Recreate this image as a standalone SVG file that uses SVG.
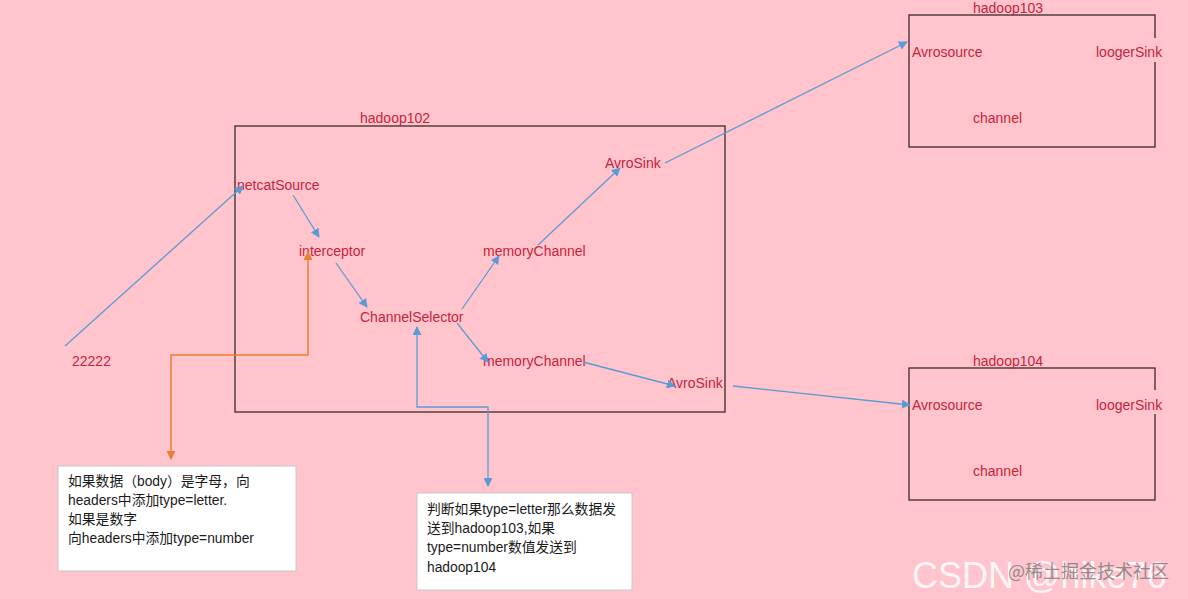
<svg xmlns="http://www.w3.org/2000/svg" width="1188" height="599" viewBox="0 0 1188 599">
<defs>
<marker id="ab" viewBox="0 0 10 10" refX="9" refY="5" markerWidth="9" markerHeight="9" markerUnits="userSpaceOnUse" orient="auto-start-reverse"><path d="M0,0 L10,5 L0,10 z" fill="#5B9BD5"/></marker>
<marker id="ao" viewBox="0 0 10 10" refX="9" refY="5" markerWidth="9" markerHeight="9" markerUnits="userSpaceOnUse" orient="auto-start-reverse"><path d="M0,0 L10,5 L0,10 z" fill="#ED7D31"/></marker>
</defs>
<style>
.lbl{font-family:"Liberation Sans","Noto Sans",sans-serif;font-size:14px;fill:#C4243E}
.box{fill:none;stroke:#3a2a2a;stroke-width:1.3}
.note{fill:#fff;stroke:#c8c8c8;stroke-width:1}
.nt{font-family:"Liberation Sans","Noto Sans CJK SC",sans-serif;font-size:13.8px;fill:#1a1a1a}
.cb{fill:none;stroke:#5B9BD5;stroke-width:1.3;marker-end:url(#ab)}
.co{fill:none;stroke:#ED7D31;stroke-width:1.5}
</style>
<rect width="1188" height="599" fill="#FFC4CC"/>

<g id="hadoop102">
<rect class="box" x="235" y="126" width="490" height="286"/>
<text class="lbl" x="360" y="123">hadoop102</text>
</g>
<g id="hadoop103">
<rect class="box" x="909" y="15" width="246" height="132"/>
<text class="lbl" x="973" y="13">hadoop103</text>
<rect x="1150" y="38" width="12" height="24" fill="#FFC4CC"/>
<text class="lbl" x="912" y="57">Avrosource</text>
<text class="lbl" x="1096" y="57">loogerSink</text>
<text class="lbl" x="973" y="123">channel</text>
</g>
<g id="hadoop104">
<rect class="box" x="909" y="368" width="246" height="132"/>
<text class="lbl" x="973" y="366">hadoop104</text>
<rect x="1150" y="390" width="12" height="24" fill="#FFC4CC"/>
<text class="lbl" x="912" y="410">Avrosource</text>
<text class="lbl" x="1096" y="410">loogerSink</text>
<text class="lbl" x="973" y="476">channel</text>
</g>

<g id="port"><text class="lbl" x="72" y="366">22222</text></g>
<g id="netcatSource"><text class="lbl" x="237" y="190">netcatSource</text></g>
<g id="interceptor"><text class="lbl" x="299" y="256">interceptor</text></g>
<g id="memoryChannel1"><text class="lbl" x="483" y="256">memoryChannel</text></g>
<g id="ChannelSelector"><text class="lbl" x="360" y="322">ChannelSelector</text></g>
<g id="memoryChannel2"><text class="lbl" x="483" y="366">memoryChannel</text></g>
<g id="AvroSink1"><text class="lbl" x="605" y="168">AvroSink</text></g>
<g id="AvroSink2"><text class="lbl" x="667" y="388">AvroSink</text></g>

<g id="note1">
<rect class="note" x="58" y="466" width="238" height="105"/>
<text class="nt" x="68" y="486">如果数据（body）是字母，向</text>
<text class="nt" x="68" y="505">headers中添加type=letter.</text>
<text class="nt" x="68" y="524">如果是数字</text>
<text class="nt" x="68" y="543">向headers中添加type=number</text>
</g>
<g id="note2">
<rect class="note" x="417" y="493" width="215" height="97"/>
<text class="nt" x="427" y="514">判断如果type=letter那么数据发</text>
<text class="nt" x="427" y="533">送到hadoop103,如果</text>
<text class="nt" x="427" y="552">type=number数值发送到</text>
<text class="nt" x="427" y="572">hadoop104</text>
</g>

<g id="connectors">
<line class="cb" x1="65" y1="346" x2="243" y2="186"/>
<line class="cb" x1="293" y1="195" x2="319" y2="237"/>
<line class="cb" x1="336" y1="263" x2="367" y2="307"/>
<line class="cb" x1="462" y1="309" x2="499" y2="256"/>
<line class="cb" x1="457" y1="323" x2="488" y2="362"/>
<line class="cb" x1="538" y1="245" x2="620" y2="168"/>
<line class="cb" x1="583" y1="362" x2="675" y2="386"/>
<line class="cb" x1="665" y1="163" x2="907" y2="42"/>
<line class="cb" x1="733" y1="386" x2="910" y2="405"/>
<polyline class="cb" points="417,327 417,407 488,407 488,486" marker-start="url(#ab)"/>
<polyline class="co" points="171,459 171,355 308,355 308,252" marker-start="url(#ao)" marker-end="url(#ao)"/>
</g>

<g id="watermark">
<text x="912" y="588" font-family="Liberation Sans,sans-serif" font-size="36" fill="#ffffff" fill-opacity="0.85">CSDN @hike76</text>
<text x="1008" y="578" font-family="Noto Sans CJK SC,sans-serif" font-size="18" fill="#777" fill-opacity="0.8">@稀土掘金技术社区</text>
</g>
</svg>
